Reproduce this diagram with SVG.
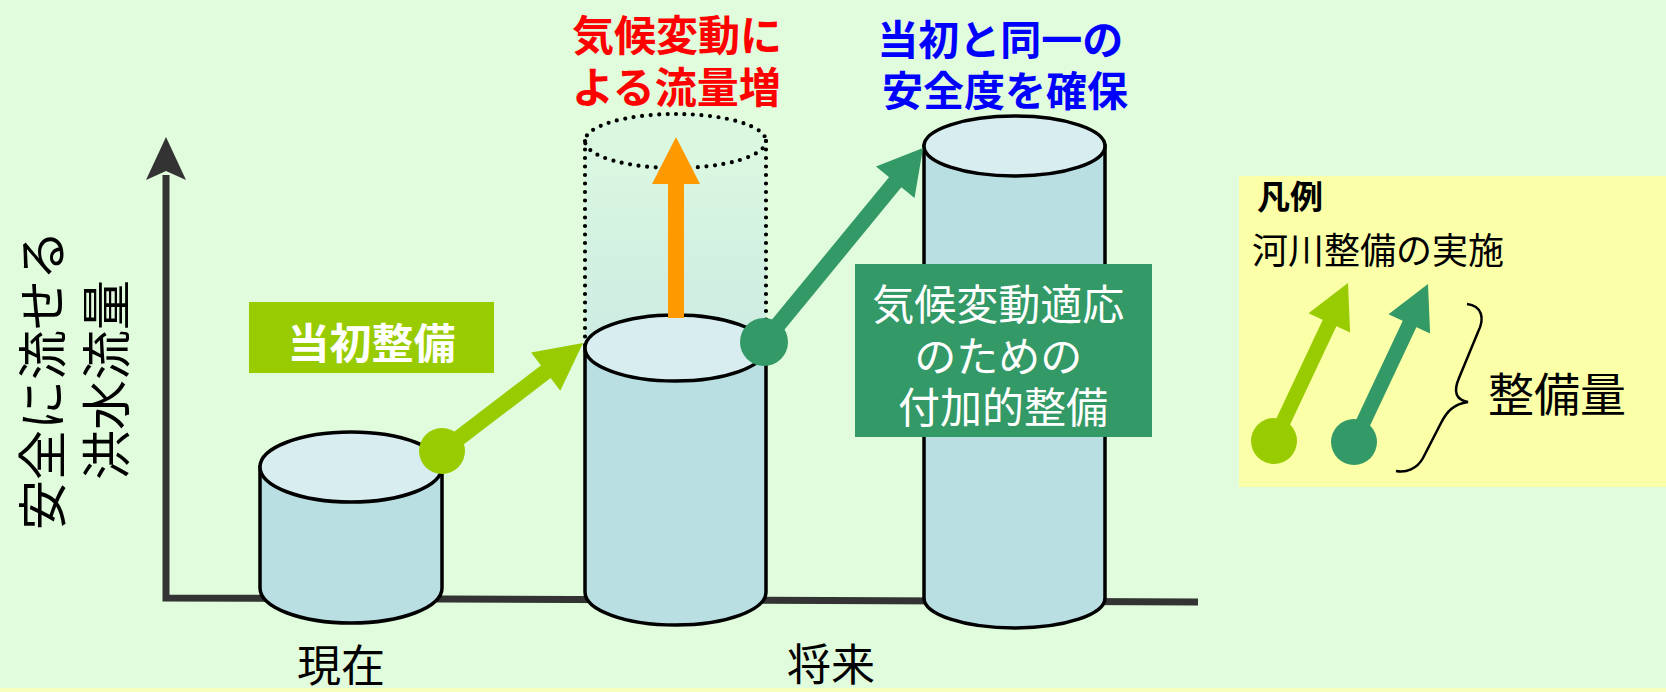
<svg xmlns="http://www.w3.org/2000/svg" width="1666" height="692" viewBox="0 0 1666 692">
<defs>
<style>
.t{font-family:"Noto Sans CJK JP","Noto Sans",sans-serif;dominant-baseline:central}
.b{font-weight:bold}
.body{fill:#b9dfe3;stroke:#000;stroke-width:3.5}
.top{fill:#d8edef;stroke:#000;stroke-width:3.5}
.dot{fill:none;stroke:#000;stroke-width:4.2;stroke-linecap:round;stroke-dasharray:0 8.5}
.lg{fill:#99cc00}
.dg{fill:#339966}
</style>
<linearGradient id="ghost" x1="0" y1="0" x2="0" y2="1">
<stop offset="0" stop-color="#daf8e0"/>
<stop offset="1" stop-color="#cdebe2"/>
</linearGradient>
</defs>
<rect x="0" y="0" width="1666" height="692" fill="#e0fcdc"/>
<rect x="0" y="688" width="1666" height="4" fill="#f6ffbc"/>

<g id="axes">
<path d="M166,175 L166,598 L1198,602" fill="none" stroke="#333" stroke-width="7"/>
<path d="M166,137 L186,180 L166,171 L146,180 Z" fill="#333"/>
</g>

<g id="y-label">
<text class="t" font-size="50" text-anchor="middle" transform="translate(39,380) rotate(-90)">安全に流せる</text>
<text class="t" font-size="50" text-anchor="middle" transform="translate(103,380) rotate(-90)">洪水流量</text>
</g>

<g id="ghost-cylinder">
<path d="M585,141 L585,348 L766,348 L766,141 Z" fill="url(#ghost)"/>
<ellipse cx="675.5" cy="141" rx="90.5" ry="27" fill="#daf8e0"/>
<line class="dot" x1="585" y1="141" x2="585" y2="350"/>
<line class="dot" x1="766" y1="141" x2="766" y2="350"/>
<ellipse class="dot" cx="675.5" cy="141" rx="90.5" ry="27"/>
<path class="dot" d="M587,594 A90.5,33 0 0 0 764,594"/>
</g>

<g id="cyl-now">
<path class="body" d="M260,467 L260,588 A91,35 0 0 0 442,588 L442,467 Z"/>
<ellipse class="top" cx="351" cy="467" rx="91" ry="35"/>
</g>

<g id="cyl-future">
<path class="body" d="M585,348 L585,592 A90.5,33 0 0 0 766,592 L766,348 Z"/>
<ellipse class="top" cx="675.5" cy="348" rx="90.5" ry="33"/>
</g>

<g id="cyl-target">
<path class="body" d="M924,146 L924,598 A90.5,30 0 0 0 1105,598 L1105,146 Z"/>
<ellipse class="top" cx="1014.5" cy="146" rx="90.5" ry="30"/>
</g>

<g id="connectors">
<g id="arrow-initial">
<line x1="442" y1="451" x2="548" y2="370" stroke="#99cc00" stroke-width="16"/>
<polygon class="lg" points="583,343 560.3,390.7 531.1,352.5"/>
<circle class="lg" cx="442" cy="451" r="23"/>
</g>
<g id="arrow-climate">
<rect x="668" y="182" width="16" height="136" fill="#ff9900"/>
<polygon points="676,137 700,184 652,184" fill="#ff9900"/>
</g>
<g id="arrow-additional">
<line x1="764" y1="342" x2="897" y2="180" stroke="#339966" stroke-width="16"/>
<polygon class="dg" points="923,148 914.5,198 876,166.5"/>
<circle class="dg" cx="764" cy="342" r="24"/>
</g>
</g>

<g id="label-initial">
<rect x="249" y="302" width="245" height="71" fill="#99cc00"/>
<text class="t b" x="371.5" y="340" font-size="42" fill="#fff" text-anchor="middle">当初整備</text>
</g>

<g id="label-additional">
<rect x="855" y="264" width="297" height="173" fill="#339966"/>
<text class="t" font-size="42" fill="#fff" text-anchor="middle">
<tspan x="1003" y="301">気候変動適応</tspan>
<tspan x="1003" y="353">のための</tspan>
<tspan x="1003" y="404">付加的整備</tspan>
</text>
</g>

<g id="label-increase">
<text class="t b" font-size="42" fill="#ff0000">
<tspan x="572" y="32">気候変動に</tspan>
<tspan x="572" y="84">よる流量増</tspan>
</text>
</g>

<g id="label-safety">
<text class="t b" font-size="41" fill="#0000ff" text-anchor="middle">
<tspan x="1005" y="37">当初と同一の</tspan>
<tspan x="1005" y="88">安全度を確保</tspan>
</text>
</g>

<g id="label-now">
<text class="t" x="341" y="663" font-size="44" text-anchor="middle">現在</text>
</g>
<g id="label-future">
<text class="t" x="831" y="662" font-size="44" text-anchor="middle">将来</text>
</g>

<g id="legend">
<rect x="1239" y="176" width="427" height="311" fill="#fbffa8"/>
<text class="t b" x="1257" y="195" font-size="33">凡例</text>
<text class="t" x="1252" y="248" font-size="36">河川整備の実施</text>
<g id="legend-arrow-initial">
<line x1="1274" y1="441" x2="1331" y2="320" stroke="#99cc00" stroke-width="15"/>
<polygon class="lg" points="1348,283 1350.1,332.6 1308.5,313.2"/>
<circle class="lg" cx="1274" cy="441" r="23"/>
</g>
<g id="legend-arrow-additional">
<line x1="1354" y1="442" x2="1411" y2="321" stroke="#339966" stroke-width="15"/>
<polygon class="dg" points="1428,284 1430.1,333.6 1388.5,314.2"/>
<circle class="dg" cx="1354" cy="442" r="23"/>
</g>
<path d="M1467,304 C1482,306 1485,318 1478,332 L1459,378 C1453,392 1456,400 1468,402 C1454,404 1447,411 1441,423 L1423,458 C1417,469 1406,473 1396,471" fill="none" stroke="#000" stroke-width="2.5"/>
<text class="t" x="1557" y="391" font-size="46" text-anchor="middle">整備量</text>
</g>
</svg>
